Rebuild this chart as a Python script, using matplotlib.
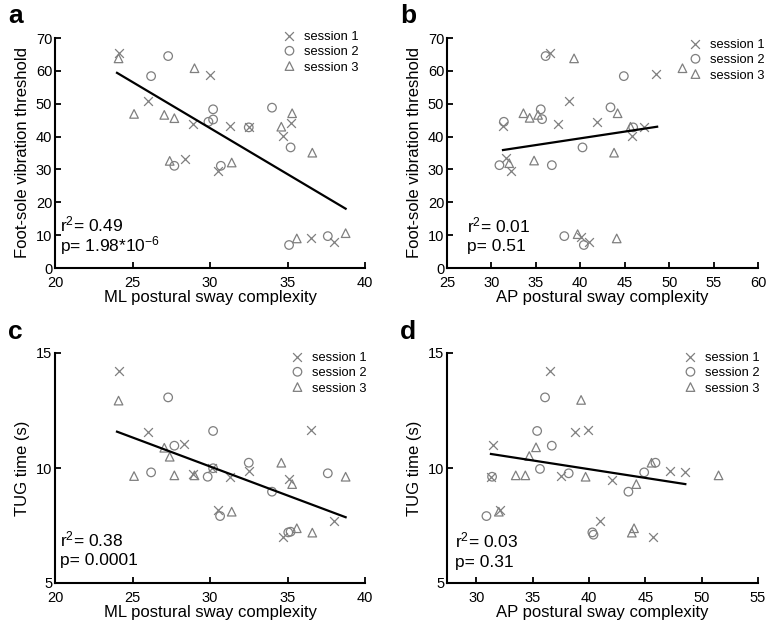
import matplotlib
matplotlib.use("Agg")
import matplotlib.pyplot as plt

# data (12 subjects x 3 sessions per panel)

# panel a: ML complexity vs foot-sole threshold
a_s1_x = [24.1, 26.0, 30.0, 28.9, 31.3, 28.4, 30.5, 35.2, 34.7, 36.5, 38.0, 32.5]
a_s1_y = [65.3, 50.8, 58.7, 43.7, 43.2, 33.1, 29.6, 44.2, 40.2, 9.0, 8.0, 42.8]
a_s2_x = [27.3, 26.2, 30.2, 29.9, 30.2, 34.0, 32.5, 35.2, 27.7, 30.7, 35.1, 37.6]
a_s2_y = [64.5, 58.4, 48.3, 44.5, 45.2, 48.8, 42.8, 36.7, 31.1, 31.1, 7.0, 9.7]
a_s3_x = [24.1, 29.0, 25.1, 27.05, 27.7, 35.3, 34.6, 36.6, 27.4, 31.4, 35.6, 38.75]
a_s3_y = [63.8, 60.8, 46.9, 46.6, 45.6, 47.1, 43.0, 35.1, 32.6, 32.1, 9.0, 10.6]
a_fit_x = [24.0, 38.75]
a_fit_y = [59.4, 18.05]

# panel b: AP complexity vs foot-sole threshold
b_s1_x = [36.6, 48.5, 38.7, 37.5, 41.9, 47.2, 45.8, 31.3, 31.6, 32.2, 41.0, 40.1]
b_s1_y = [65.3, 59.0, 50.9, 43.8, 44.3, 43.0, 40.3, 43.2, 33.4, 29.6, 8.0, 9.5]
b_s2_x = [36.1, 44.9, 35.55, 43.4, 35.7, 31.4, 45.95, 40.25, 30.9, 36.8, 38.2, 40.4]
b_s2_y = [64.5, 58.4, 48.3, 48.9, 45.3, 44.5, 42.8, 36.7, 31.3, 31.3, 9.7, 7.0]
b_s3_x = [39.3, 51.5, 33.6, 34.3, 35.25, 44.2, 45.65, 43.8, 34.8, 32.0, 39.7, 44.1]
b_s3_y = [63.8, 60.8, 47.1, 45.7, 46.6, 47.1, 43.0, 35.1, 32.7, 31.9, 10.3, 9.0]
b_fit_x = [31.3, 48.65]
b_fit_y = [35.9, 43.0]

# panel c: ML complexity vs TUG time
c_s1_x = [24.1, 26.0, 28.3, 36.5, 31.3, 32.5, 35.1, 30.5, 34.7, 38.0, 30.1, 28.9]
c_s1_y = [14.23, 11.58, 11.03, 11.65, 9.62, 9.87, 9.51, 8.17, 7.01, 7.70, 9.99, 9.74]
c_s2_x = [27.3, 26.2, 27.7, 30.2, 29.85, 30.2, 32.5, 34.0, 30.65, 35.05, 35.2, 37.6]
c_s2_y = [13.07, 9.81, 10.97, 11.61, 9.62, 9.99, 10.23, 8.97, 7.91, 7.2, 7.23, 9.77]
c_s3_x = [24.1, 25.1, 27.05, 27.4, 27.7, 29.0, 34.6, 35.3, 31.4, 35.6, 36.6, 38.75]
c_s3_y = [12.93, 9.65, 10.88, 10.49, 9.68, 9.68, 10.23, 9.3, 8.1, 7.38, 7.19, 9.62]
c_fit_x = [24.0, 38.75]
c_fit_y = [11.58, 7.86]

# panel d: AP complexity vs TUG time
d_s1_x = [36.5, 38.75, 39.9, 31.5, 37.5, 42.0, 47.2, 48.5, 32.1, 41.0, 45.7, 31.3]
d_s1_y = [14.23, 11.58, 11.65, 11.0, 9.67, 9.48, 9.87, 9.84, 8.17, 7.7, 7.01, 9.62]
d_s2_x = [36.1, 35.4, 36.7, 35.65, 38.2, 44.9, 45.9, 31.4, 43.5, 30.9, 40.3, 40.4]
d_s2_y = [13.07, 11.61, 10.97, 9.96, 9.77, 9.81, 10.23, 9.62, 8.97, 7.91, 7.2, 7.1]
d_s3_x = [39.3, 35.3, 34.7, 33.5, 34.35, 39.7, 45.55, 44.2, 51.5, 32.0, 44.0, 43.8]
d_s3_y = [12.96, 10.9, 10.52, 9.68, 9.68, 9.62, 10.23, 9.3, 9.68, 8.1, 7.38, 7.19]
d_fit_x = [31.3, 48.55]
d_fit_y = [10.61, 9.30]

session_labels = ['session 1', 'session 2', 'session 3']
stats_a = ['r$^2$= 0.49', 'p= 1.98*10$^{-6}$']
stats_b = ['r$^2$= 0.01', 'p= 0.51']
stats_c = ['r$^2$= 0.38', 'p= 0.0001']
stats_d = ['r$^2$= 0.03', 'p= 0.31']

plt.rcParams['font.family'] = ['Liberation Sans', 'DejaVu Sans']
plt.rcParams['mathtext.fontset'] = 'custom'
plt.rcParams['mathtext.rm'] = 'Liberation Sans'
plt.rcParams['mathtext.it'] = 'Liberation Sans:italic'

W, H = 768, 625
GREY = '#7f7f7f'


def px_rect(left, top, right, bottom):
    # pixel box -> figure fraction
    return [left / W, 1 - bottom / H, (right - left) / W, (bottom - top) / H]


def draw_panel(fig, rect, sessions, fit, stats, xlim, ylim, xticks, yticks,
               xlabel, ylabel, letter, letter_xy, leg_xy, stats_xy):
    ax = fig.add_axes(px_rect(*rect))
    markers = ['x', 'o', '^']
    for (xs, ys), m, lab in zip(sessions, markers, session_labels):
        if m == 'x':
            ax.scatter(xs, ys, marker='x', s=40, color=GREY, linewidths=0.9, label=lab)
        else:
            ax.scatter(xs, ys, marker=m, s=38, facecolors='none', edgecolors=GREY,
                       linewidths=0.9, label=lab)
    ax.plot(fit[0], fit[1], color='black', lw=1.6)

    ax.set_xlim(*xlim)
    ax.set_ylim(*ylim)
    ax.set_xticks(xticks)
    ax.set_yticks(yticks)
    for s in ['top', 'right']:
        ax.spines[s].set_visible(False)
    for s in ['left', 'bottom']:
        ax.spines[s].set_linewidth(1.5)
    ax.tick_params(direction='in', length=4, width=1.3, labelsize=10.5)
    ax.tick_params(axis='x', pad=6)
    ax.tick_params(axis='y', pad=2)
    ax.set_xlabel(xlabel, fontsize=12, labelpad=0)
    ax.set_ylabel(ylabel, fontsize=12, labelpad=4)

    fig.text(letter_xy[0] / W, 1 - letter_xy[1] / H, letter, fontsize=19,
             fontweight='bold', va='top', ha='left')
    fig.text(stats_xy[0] / W, 1 - stats_xy[1] / H, stats[0], fontsize=12.5, va='center')
    fig.text(stats_xy[0] / W, 1 - (stats_xy[1] + 22) / H, stats[1], fontsize=12.5, va='center')

    ax.legend(loc='upper left', bbox_to_anchor=(leg_xy[0] / W, 1 - leg_xy[1] / H),
              bbox_transform=fig.transFigure, frameon=False, fontsize=9.3,
              handlelength=1.0, handletextpad=0.6, labelspacing=0.25,
              borderpad=0, borderaxespad=0, scatteryoffsets=[0.5])
    return ax


def main():
    fig = plt.figure(figsize=(W / 100, H / 100), dpi=100)

    draw_panel(fig, (55, 38, 365, 268),
               [(a_s1_x, a_s1_y), (a_s2_x, a_s2_y), (a_s3_x, a_s3_y)],
               (a_fit_x, a_fit_y), stats_a, (20, 40), (0, 70),
               [20, 25, 30, 35, 40], range(0, 71, 10),
               'ML postural sway complexity', 'Foot-sole vibration threshold',
               'a', (8, 4), (283, 31), (60, 224))

    draw_panel(fig, (447, 38, 758, 268),
               [(b_s1_x, b_s1_y), (b_s2_x, b_s2_y), (b_s3_x, b_s3_y)],
               (b_fit_x, b_fit_y), stats_b, (25, 60), (0, 70),
               range(25, 61, 5), range(0, 71, 10),
               'AP postural sway complexity', 'Foot-sole vibration threshold',
               'b', (400, 4), (689, 39), (467, 225))

    draw_panel(fig, (55, 353, 365, 583),
               [(c_s1_x, c_s1_y), (c_s2_x, c_s2_y), (c_s3_x, c_s3_y)],
               (c_fit_x, c_fit_y), stats_c, (20, 40), (5, 15),
               [20, 25, 30, 35, 40], [5, 10, 15],
               'ML postural sway complexity', 'TUG time (s)',
               'c', (8, 320), (291, 352), (60, 539))

    draw_panel(fig, (447, 353, 758, 583),
               [(d_s1_x, d_s1_y), (d_s2_x, d_s2_y), (d_s3_x, d_s3_y)],
               (d_fit_x, d_fit_y), stats_d, (27.4, 55), (5, 15),
               [30, 35, 40, 45, 50, 55], [5, 10, 15],
               'AP postural sway complexity', 'TUG time (s)',
               'd', (400, 320), (684, 352), (455, 540))

    fig.savefig('out.png', dpi=100)


if __name__ == '__main__':
    main()
